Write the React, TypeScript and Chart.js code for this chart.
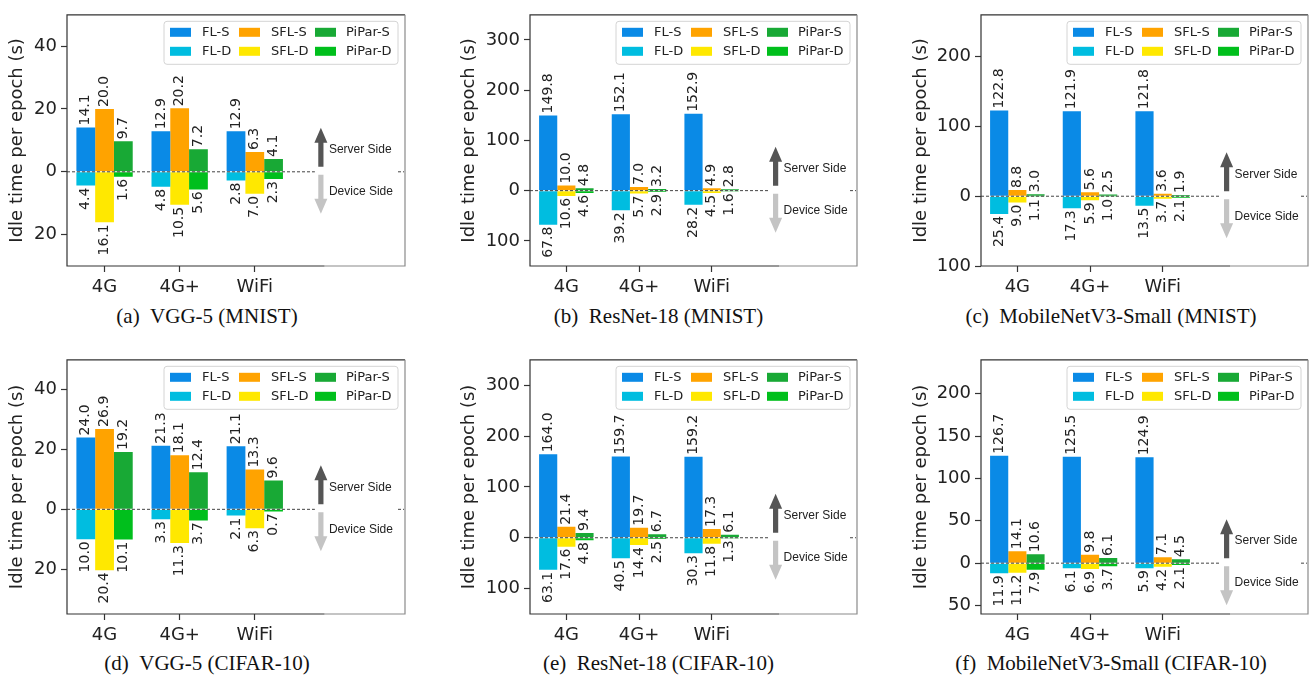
import React, { useEffect, useRef } from 'react';
import { Chart, registerables } from 'chart.js';

Chart.register(...registerables);

// ---- categories & legend ----
const networks = ['4G', '4G+', 'WiFi'];
const seriesNames = ['FL-S', 'FL-D', 'SFL-S', 'SFL-D', 'PiPar-S', 'PiPar-D'];
const seriesStacks = ['FL', 'FL', 'SFL', 'SFL', 'PiPar', 'PiPar'];
const seriesSide = [1, -1, 1, -1, 1, -1]; // +1 server side (up), -1 device side (down)
const seriesColors = ['#0a8ae6', '#00bde0', '#ffa300', '#ffe800', '#18a935', '#00bf1c'];

// ---- (a) VGG-5 (MNIST) ----
const vggMnistFlS = [14.1, 12.9, 12.9];
const vggMnistFlD = [4.4, 4.8, 2.8];
const vggMnistSflS = [20.0, 20.2, 6.3];
const vggMnistSflD = [16.1, 10.5, 7.0];
const vggMnistPiparS = [9.7, 7.2, 4.1];
const vggMnistPiparD = [1.6, 5.6, 2.3];

// ---- (b) ResNet-18 (MNIST) ----
const resMnistFlS = [149.8, 152.1, 152.9];
const resMnistFlD = [67.8, 39.2, 28.2];
const resMnistSflS = [10.0, 7.0, 4.9];
const resMnistSflD = [10.6, 5.7, 4.5];
const resMnistPiparS = [4.8, 3.2, 2.8];
const resMnistPiparD = [4.6, 2.9, 1.6];

// ---- (c) MobileNetV3-Small (MNIST) ----
const mobMnistFlS = [122.8, 121.9, 121.8];
const mobMnistFlD = [25.4, 17.3, 13.5];
const mobMnistSflS = [8.8, 5.6, 3.6];
const mobMnistSflD = [9.0, 5.9, 3.7];
const mobMnistPiparS = [3.0, 2.5, 1.9];
const mobMnistPiparD = [1.1, 1.0, 2.1];

// ---- (d) VGG-5 (CIFAR-10) ----
const vggCifarFlS = [24.0, 21.3, 21.1];
const vggCifarFlD = [10.0, 3.3, 2.1];
const vggCifarSflS = [26.9, 18.1, 13.3];
const vggCifarSflD = [20.4, 11.3, 6.3];
const vggCifarPiparS = [19.2, 12.4, 9.6];
const vggCifarPiparD = [10.1, 3.7, 0.7];

// ---- (e) ResNet-18 (CIFAR-10) ----
const resCifarFlS = [164.0, 159.7, 159.2];
const resCifarFlD = [63.1, 40.5, 30.3];
const resCifarSflS = [21.4, 19.7, 17.3];
const resCifarSflD = [17.6, 14.4, 11.8];
const resCifarPiparS = [9.4, 6.7, 6.1];
const resCifarPiparD = [4.8, 2.5, 1.3];

// ---- (f) MobileNetV3-Small (CIFAR-10) ----
const mobCifarFlS = [126.7, 125.5, 124.9];
const mobCifarFlD = [11.9, 6.1, 5.9];
const mobCifarSflS = [14.1, 9.8, 7.1];
const mobCifarSflD = [11.2, 6.9, 4.2];
const mobCifarPiparS = [10.6, 6.1, 4.5];
const mobCifarPiparD = [7.9, 3.7, 2.1];

// ---- axis ranges / ticks per panel ----
const yMins = [-30, -150, -100, -35, -150, -60];
const yMaxs = [50, 350, 260, 50, 350, 240];
const ySteps = [20, 100, 100, 20, 100, 50];
const captions = [
  '(a)\u00a0\u00a0VGG-5 (MNIST)',
  '(b)\u00a0\u00a0ResNet-18 (MNIST)',
  '(c)\u00a0\u00a0MobileNetV3-Small (MNIST)',
  '(d)\u00a0\u00a0VGG-5 (CIFAR-10)',
  '(e)\u00a0\u00a0ResNet-18 (CIFAR-10)',
  '(f)\u00a0\u00a0MobileNetV3-Small (CIFAR-10)',
];

const panelSeries = [
  [vggMnistFlS, vggMnistFlD, vggMnistSflS, vggMnistSflD, vggMnistPiparS, vggMnistPiparD],
  [resMnistFlS, resMnistFlD, resMnistSflS, resMnistSflD, resMnistPiparS, resMnistPiparD],
  [mobMnistFlS, mobMnistFlD, mobMnistSflS, mobMnistSflD, mobMnistPiparS, mobMnistPiparD],
  [vggCifarFlS, vggCifarFlD, vggCifarSflS, vggCifarSflD, vggCifarPiparS, vggCifarPiparD],
  [resCifarFlS, resCifarFlD, resCifarSflS, resCifarSflD, resCifarPiparS, resCifarPiparD],
  [mobCifarFlS, mobCifarFlD, mobCifarSflS, mobCifarSflD, mobCifarPiparS, mobCifarPiparD],
];

// ---- layout (page pixels) ----
type Geo = { left: number; top: number; w: number; h: number; plotL: number; plotR: number; plotT: number; plotB: number; titleX: number; capX: number; capY: number };
const geos: Geo[] = [
  { left: 0, top: 0, w: 440, h: 300, plotL: 67, plotR: 405, plotT: 7, plotB: 266, titleX: 17.5, capX: 207, capY: 316 },
  { left: 440, top: 0, w: 430, h: 300, plotL: 530, plotR: 857, plotT: 7, plotB: 266, titleX: 469, capX: 658.5, capY: 316 },
  { left: 870, top: 0, w: 442, h: 300, plotL: 981, plotR: 1308, plotT: 7, plotB: 266, titleX: 921, capX: 1111, capY: 316 },
  { left: 0, top: 345, w: 440, h: 305, plotL: 67, plotR: 405, plotT: 356, plotB: 614, titleX: 17.5, capX: 207, capY: 663 },
  { left: 440, top: 345, w: 430, h: 305, plotL: 530, plotR: 857, plotT: 356, plotB: 614, titleX: 469, capX: 658.5, capY: 663 },
  { left: 870, top: 345, w: 442, h: 305, plotL: 981, plotR: 1308, plotT: 356, plotB: 614, titleX: 921, capX: 1111, capY: 663 },
];

const SANS = "'DejaVu Sans', sans-serif";
const TEXT = '#222';

function drawArrow(ctx: CanvasRenderingContext2D, x: number, y1: number, y2: number, color: string) {
  // from y1 (tail) to y2 (tip)
  const dir = y2 > y1 ? 1 : -1;
  const headLen = 15;
  const headHalf = 6.5;
  const shaftHalf = 2.6;
  const yHead = y2 - dir * headLen;
  ctx.fillStyle = color;
  ctx.beginPath();
  ctx.moveTo(x - shaftHalf, y1);
  ctx.lineTo(x + shaftHalf, y1);
  ctx.lineTo(x + shaftHalf, yHead);
  ctx.lineTo(x + headHalf, yHead);
  ctx.lineTo(x, y2);
  ctx.lineTo(x - headHalf, yHead);
  ctx.lineTo(x - shaftHalf, yHead);
  ctx.closePath();
  ctx.fill();
}

function Panel({ idx }: { idx: number }) {
  const ref = useRef<HTMLCanvasElement | null>(null);
  const g = geos[idx];
  useEffect(() => {
    if (!ref.current) return;
    const series = panelSeries[idx];
    const yMin = yMins[idx];
    const yMax = yMaxs[idx];
    const yStep = ySteps[idx];
    const datasets = series.map((vals, si) => ({
      label: seriesNames[si],
      stack: seriesStacks[si],
      backgroundColor: seriesColors[si],
      borderWidth: 0,
      categoryPercentage: 0.75,
      barPercentage: 1.0,
      data: vals.map((v, i) => ({ x: i, y: seriesSide[si] * v })),
    }));

    const decor = {
      id: 'decor' + idx,
      afterDatasetsDraw(chart: any) {
        const { ctx, chartArea: ca, scales } = chart;
        const xs = scales.x;
        const ys = scales.y;
        const y0 = ys.getPixelForValue(0);
        ctx.save();
        // dashed zero line
        ctx.strokeStyle = '#444';
        ctx.lineWidth = 1;
        ctx.setLineDash([3, 2]);
        ctx.beginPath();
        ctx.moveTo(ca.left, y0);
        ctx.lineTo(xs.getPixelForValue(2.8), y0);
        ctx.moveTo(ca.right - 7, y0);
        ctx.lineTo(ca.right - 1, y0);
        ctx.stroke();
        ctx.setLineDash([]);
        // value labels
        ctx.font = `14px ${SANS}`;
        ctx.fillStyle = TEXT;
        ctx.textBaseline = 'middle';
        chart.data.datasets.forEach((ds: any, di: number) => {
          const meta = chart.getDatasetMeta(di);
          meta.data.forEach((bar: any, i: number) => {
            const v = ds.data[i].y;
            const p = bar.getProps(['x', 'y', 'base'], true);
            ctx.save();
            if (v >= 0) {
              ctx.translate(p.x, Math.min(p.y, p.base) - 2);
              ctx.rotate(-Math.PI / 2);
              ctx.textAlign = 'left';
            } else {
              ctx.translate(p.x, Math.max(p.y, p.base) + 2);
              ctx.rotate(-Math.PI / 2);
              ctx.textAlign = 'right';
            }
            ctx.fillText(Math.abs(v).toFixed(1), 0, 0);
            ctx.restore();
          });
        });
        ctx.restore();
      },
      afterDraw(chart: any) {
        const { ctx, chartArea: ca, scales } = chart;
        const xs = scales.x;
        const ys = scales.y;
        const y0 = ys.getPixelForValue(0);
        ctx.save();
        // frame
        ctx.lineWidth = 1.2;
        ctx.strokeStyle = '#333';
        ctx.beginPath();
        ctx.moveTo(xs.getPixelForValue(2.93), ca.bottom);
        ctx.lineTo(ca.left, ca.bottom);
        ctx.lineTo(ca.left, ca.top);
        ctx.lineTo(ca.right, ca.top);
        ctx.stroke();
        ctx.strokeStyle = '#8a8a8a';
        ctx.beginPath();
        ctx.moveTo(ca.right, ca.top);
        ctx.lineTo(ca.right, ca.bottom);
        ctx.lineTo(xs.getPixelForValue(2.93), ca.bottom);
        ctx.stroke();
        // arrows
        const ax = xs.getPixelForValue(2.88);
        drawArrow(ctx, ax, y0 - 5, y0 - 44, '#555555');
        drawArrow(ctx, ax, y0 + 3, y0 + 42, '#c4c4c4');
        ctx.font = `12px 'Liberation Sans', Arial, sans-serif`;
        ctx.fillStyle = TEXT;
        ctx.textAlign = 'left';
        ctx.textBaseline = 'middle';
        ctx.fillText('Server Side', ax + 8, y0 - 22);
        ctx.fillText('Device Side', ax + 8, y0 + 20);
        // legend
        const lw = 234;
        const lh = 43;
        const lx = ca.right - 7 - lw;
        const ly = ca.top + 6.5;
        ctx.beginPath();
        ctx.roundRect(lx, ly, lw, lh, 3);
        ctx.fillStyle = 'rgba(255,255,255,0.85)';
        ctx.fill();
        ctx.strokeStyle = '#d4d4d4';
        ctx.lineWidth = 1;
        ctx.stroke();
        const colSw = [6, 75, 151];
        const colTx = [38, 107, 182];
        const rowY = [11, 30];
        ctx.font = `13px ${SANS}`;
        seriesNames.forEach((name, si) => {
          const col = Math.floor(si / 2);
          const row = si % 2;
          const cy = ly + rowY[row];
          ctx.fillStyle = seriesColors[si];
          ctx.fillRect(lx + colSw[col], cy - 4.5, 21, 9);
          ctx.fillStyle = TEXT;
          ctx.fillText(name, lx + colTx[col], cy);
        });
        ctx.restore();
      },
    };

    const yTicks: number[] = [];
    for (let t = Math.ceil(yMin / yStep) * yStep; t <= yMax; t += yStep) yTicks.push(t);

    const chart = new Chart(ref.current, {
      type: 'bar',
      data: { datasets: datasets as any },
      options: {
        animation: false,
        responsive: false,
        maintainAspectRatio: false,
        layout: { padding: { left: 0, top: g.plotT - g.top, right: g.w - (g.plotR - g.left), bottom: 0 } },
        plugins: { legend: { display: false }, tooltip: { enabled: false } },
        scales: {
          x: {
            type: 'linear',
            min: -0.5,
            max: 4,
            offset: false,
            grid: { display: true, offset: false, drawOnChartArea: false, drawTicks: true, tickLength: 6, tickColor: '#333', tickWidth: 1.2 },
            border: { display: false },
            ticks: {
              autoSkip: false,
              maxRotation: 0,
              padding: 5,
              color: TEXT,
              font: { family: SANS, size: 18 },
              callback: (v: any) => networks[v as number] ?? '',
            },
            afterBuildTicks: (scale: any) => {
              scale.ticks = networks.map((_, i) => ({ value: i }));
            },
            afterFit: (scale: any) => {
              scale.height = g.h - (g.plotB - g.top);
            },
          },
          y: {
            type: 'linear',
            min: yMin,
            max: yMax,
            stacked: true,
            grid: { display: true, drawOnChartArea: false, drawTicks: true, tickLength: 6, tickColor: '#333', tickWidth: 1.2 },
            border: { display: false },
            ticks: {
              padding: 4,
              color: TEXT,
              font: { family: SANS, size: 18 },
              callback: (v: any) => String(Math.abs(v as number)),
            },
            afterBuildTicks: (scale: any) => {
              scale.ticks = yTicks.map((value) => ({ value }));
            },
            afterFit: (scale: any) => {
              scale.width = g.plotL - g.left;
            },
            title: {
              display: true,
              text: 'Idle time per epoch (s)',
              color: TEXT,
              font: { family: SANS, size: 18, lineHeight: 1.2 },
              padding: { top: g.titleX - g.left - 10.8, bottom: 0 },
            },
          },
        },
      } as any,
      plugins: [decor],
    });
    return () => chart.destroy();
  }, [idx]);

  return (
    <>
      <div style={{ position: 'absolute', left: g.left, top: g.top, width: g.w, height: g.h }}>
        <canvas ref={ref} width={g.w} height={g.h} style={{ display: 'block', width: g.w, height: g.h }} />
      </div>
      <div
        style={{
          position: 'absolute',
          left: g.capX - 220,
          top: g.capY - 13,
          width: 440,
          textAlign: 'center',
          fontFamily: "'Liberation Serif', 'Times New Roman', serif",
          fontSize: 21,
          lineHeight: '26px',
          color: '#111',
          whiteSpace: 'nowrap',
        }}
      >
        {captions[idx]}
      </div>
    </>
  );
}

export default function App() {
  return (
    <div style={{ position: 'absolute', left: 0, top: 0, width: 1312, height: 680, background: '#fff', overflow: 'hidden' }}>
      {geos.map((_, i) => (
        <Panel key={i} idx={i} />
      ))}
    </div>
  );
}
